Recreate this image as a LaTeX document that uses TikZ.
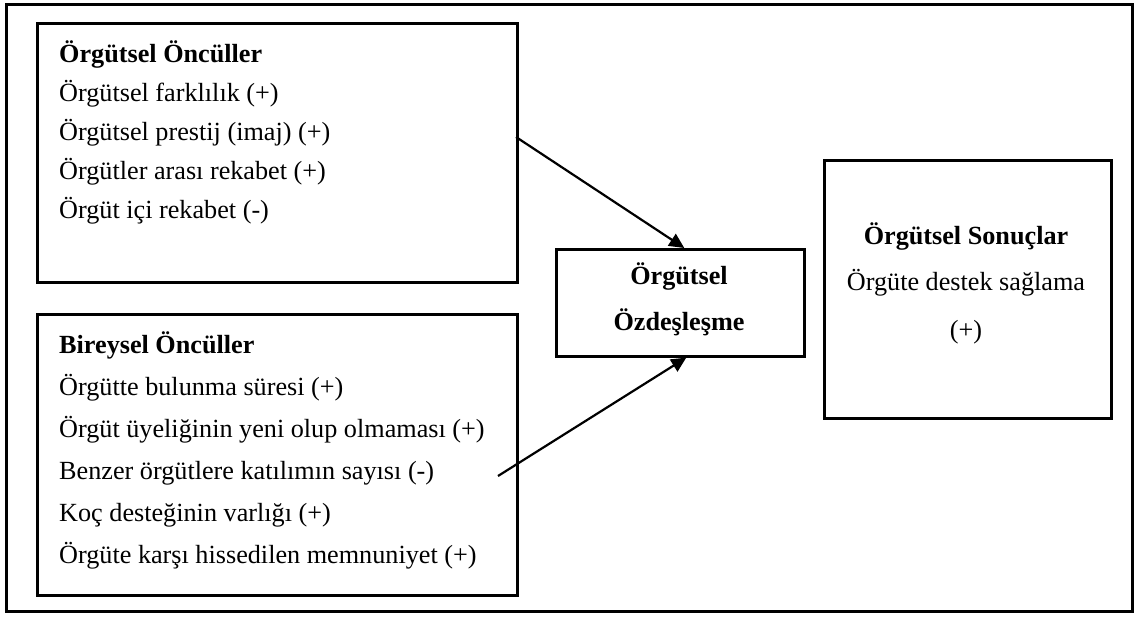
\documentclass[tikz,border=0pt]{standalone}
\usepackage{fontspec}
\setmainfont{Liberation Serif}
\usetikzlibrary{arrows.meta}
\begin{document}
\begin{tikzpicture}[x=1pt,y=-1pt,
  frame/.style={draw=black,line width=2.6pt},
  panel/.style={draw=black,line width=2.6pt,anchor=north west,inner sep=0pt},
  txt/.style={inner sep=0pt,font=\fontsize{26.2pt}{30pt}\selectfont},
  ltxt/.style={txt,anchor=base west},
  ctxt/.style={txt,anchor=base},
  arr/.style={line width=2.2pt,-{Triangle[length=15pt,width=14pt]}}]
  \fill[white] (0,0) rectangle (1137,616);
  \useasboundingbox (0,0) rectangle (1137,616);
  % outer frame
  \node[panel,minimum width=1126pt,minimum height=607pt] (outer) at (5,3) {};
  % boxes
  \node[panel,minimum width=480pt,minimum height=259pt] (oc) at (36,22) {};
  \node[panel,minimum width=480pt,minimum height=281pt] (bc) at (36,313) {};
  \node[panel,minimum width=248pt,minimum height=107pt] (oz) at (555,248) {};
  \node[panel,minimum width=287pt,minimum height=258pt] (os) at (823,159) {};
  % organisational antecedents
  \node[ltxt] (oc0) at (59,62) {\textbf{Örgütsel Öncüller}};
  \node[ltxt] (oc1) at (59,101) {Örgütsel farklılık (+)};
  \node[ltxt] (oc2) at (59,140) {Örgütsel prestij (imaj) (+)};
  \node[ltxt] (oc3) at (59,179) {Örgütler arası rekabet (+)};
  \node[ltxt] (oc4) at (59,218) {Örgüt içi rekabet (-)};
  % individual antecedents
  \node[ltxt] (bc0) at (59,353) {\textbf{Bireysel Öncüller}};
  \node[ltxt] (bc1) at (59,395) {Örgütte bulunma süresi (+)};
  \node[ltxt] (bc2) at (59,437) {Örgüt üyeliğinin yeni olup olmaması (+)};
  \node[ltxt] (bc3) at (59,479) {Benzer örgütlere katılımın sayısı (-)};
  \node[ltxt] (bc4) at (59,521) {Koç desteğinin varlığı (+)};
  \node[ltxt] (bc5) at (59,563) {Örgüte karşı hissedilen memnuniyet (+)};
  % identification
  \node[ctxt] (oz0) at (679,284) {\textbf{Örgütsel}};
  \node[ctxt] (oz1) at (679,330) {\textbf{Özdeşleşme}};
  % outcomes
  \node[ctxt] (os0) at (966,244) {\textbf{Örgütsel Sonuçlar}};
  \node[ctxt] (os1) at (966,290) {Örgüte destek sağlama};
  \node[ctxt] (os2) at (966,338) {(+)};
  % arrows
  \coordinate (s1) at (516,137);
  \coordinate (s2) at (498,476);
  \draw[arr] (s1) -- ([xshift=4pt]oz.north);
  \draw[arr] (s2) -- ([xshift=6pt]oz.south);
\end{tikzpicture}
\end{document}
